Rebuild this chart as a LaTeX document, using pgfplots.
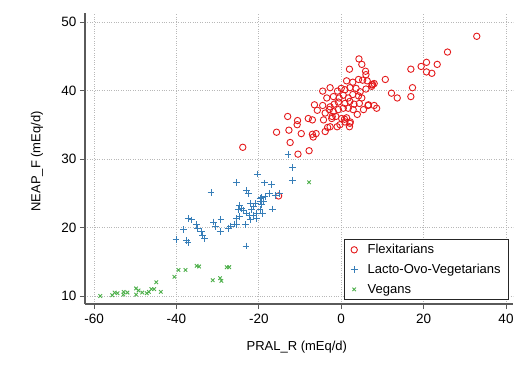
\documentclass[border=0pt]{standalone}
\usepackage{fontspec}
\setmainfont{Liberation Sans}
\usepackage{pgfplots}
\pgfplotsset{compat=1.18}
\definecolor{cRed}{HTML}{E41A1C}
\definecolor{cBlue}{HTML}{377EB8}
\definecolor{cGreen}{HTML}{4DAF4A}
\definecolor{axgray}{RGB}{90,90,90}
\begin{document}
\begin{tikzpicture}
\useasboundingbox (-85bp,-80bp) rectangle (443bp,304bp);
\begin{axis}[
  scale only axis,
  width=428bp, height=291bp,
  xmin=-62.2, xmax=41.7, ymin=8.83, ymax=51.3,
  axis x line*=bottom, axis y line*=left,
  axis line style={-, axgray, line width=1.6bp},
  xtick={-60,-40,...,40}, ytick={10,20,...,50},
  tick align=outside, major tick length=5bp,
  tick style={axgray, line width=0.8bp},
  grid=major,
  major grid style={dotted, black!28, line width=0.8bp},
  /pgf/number format/assume math mode=true,
  ticklabel style={font=\fontsize{13.5bp}{15bp}\selectfont},
  xticklabel style={yshift=-2bp},
  label style={font=\fontsize{13bp}{15bp}\selectfont},
  xlabel={PRAL\_R (mEq/d)},
  ylabel={NEAP\_F (mEq/d)},
  xlabel style={at={(rel axis cs:0.495,0)}, anchor=center, yshift=-43bp},
  ylabel style={at={(rel axis cs:0,0.49)}, anchor=center, yshift=48bp},
  legend cell align=left,
  legend image code/.code={\path (-2bp,0bp) (5bp,0bp); \draw[#1, mark repeat=1] plot coordinates {(0bp,0bp)};},
  legend style={at={(rel axis cs:1,0)}, anchor=south east, xshift=-4bp, yshift=4bp,
    draw=black!85, line width=0.8bp, font=\fontsize{13bp}{15bp}\selectfont,
    inner xsep=6bp, inner ysep=3bp, row sep=5bp,
    /tikz/every odd column/.append style={column sep=6bp}},
]
\addplot[only marks, mark=o, mark size=3.2bp, cRed, line width=0.9bp] coordinates {
(32.9,47.9) (25.8,45.6) (23.3,43.8) (20.7,44.1) (19.4,43.5) (16.9,43.1) (20.7,42.7) (22.0,42.5)
(10.7,41.6) (12.2,39.6) (13.6,38.9) (17.3,40.4) (16.9,39.1) (8.0,41.0) (7.5,40.8) (8.0,37.8)
(8.6,37.4) (6.5,37.8) (4.3,44.6) (5.0,43.8) (2.0,43.1) (5.9,42.8) (6.0,42.3)
(-13.0,36.2) (-10.6,35.6) (-10.7,35.0) (-8.0,35.9) (-7.0,35.7) (-12.7,34.2) (-15.7,33.9)
(-9.7,33.7) (-7.0,33.6) (-6.1,33.7) (-6.8,33.2) (-12.4,32.4) (-23.9,31.7) (-10.5,30.7)
(-7.8,31.2) (-15.2,24.6) (-1.0,34.7) (-3.3,34.6) (-3.9,34.0) (-6.5,37.9) (-5.8,37.1)
(1.3,41.4) (2.8,41.2) (4.2,41.6) (5.2,41.5) (6.3,41.4) (7.6,40.9)
(-4.5,39.9) (-2.7,40.4) (-0.9,39.9) (0.0,40.3) (0.9,40.1) (2.1,40.4) (3.6,40.3) (4.6,39.8) (6.0,40.2) (7.4,40.6)
(-3.5,38.9) (-1.9,39.1) (-0.5,38.9) (0.5,39.3) (1.7,38.9) (2.8,39.4) (4.2,39.2) (5.0,38.9)
(-4.5,37.8) (-2.7,37.6) (-1.7,38.0) (-0.7,38.3) (0.9,38.1) (2.1,38.4) (3.1,38.0) (4.4,38.1) (6.6,37.9)
(-2.9,37.2) (-1.9,36.9) (-0.7,37.2) (0.5,37.4) (1.7,37.4) (2.9,37.2) (5.4,37.2) (3.9,36.5) (-3.9,36.7)
(-4.3,35.7) (-2.3,35.9) (-1.3,36.2) (0.1,35.9) (1.3,36.0) (0.9,35.4) (2.1,35.2) (-0.3,35.0) (2.0,34.7)
(-2.7,34.7) (-2.2,36.2) (0.8,35.8) (2.2,35.4)
};
\addlegendentry{Flexitarians}
\addplot[only marks, mark=+, mark size=3.4bp, cBlue, line width=0.9bp] coordinates {
(-24.6,23.2) (-24.2,22.8) (-25.0,22.6) (-23.8,22.5) (-22.1,23.5) (-20.9,23.5) (-21.3,23.0) (-21.7,22.6)
(-23.1,22.1) (-22.3,21.8) (-21.2,21.7) (-20.5,22.1) (-19.7,22.6) (-19.3,23.3) (-18.9,23.8) (-19.7,24.3)
(-25.4,21.3) (-24.6,21.6) (-31.0,20.8) (-29.2,21.2) (-30.6,20.1) (-29.4,19.4) (-27.4,19.9) (-26.8,20.2)
(-25.5,20.4) (-23.3,20.4) (-22.1,21.1) (-20.5,21.3) (-37.1,21.3) (-36.3,21.1) (-35.2,20.4) (-34.9,19.9)
(-33.9,19.4) (-33.6,18.9) (-33.1,18.4) (-38.2,19.7) (-40.1,18.3) (-37.5,18.1) (-37.2,17.8) (-23.1,17.3)
(-16.6,22.7) (-17.4,25.0) (-18.5,24.5) (-22.9,25.4) (-22.5,25.0) (-20.4,27.8) (-25.5,26.6) (-31.6,25.1)
(-18.6,26.5) (-16.9,26.3) (-12.9,30.6) (-11.8,28.7) (-11.9,26.9) (-16.0,24.7) (-14.9,25.0) (-19.4,24.4)
(-19.2,22.0) (-25.9,20.5) (-19.7,23.8)
};
\addlegendentry{Lacto-Ovo-Vegetarians}
\addplot[only marks, mark=x, mark size=2.5bp, cGreen, line width=0.9bp] coordinates {
(-58.5,10.0) (-55.6,10.1) (-55.0,10.5) (-54.3,10.4) (-52.9,10.2) (-52.8,10.6) (-51.9,10.5)
(-49.8,11.1) (-49.8,10.2) (-49.2,10.8) (-48.3,10.5) (-47.2,10.4) (-46.7,10.6) (-46.1,11.0)
(-45.4,11.0) (-44.9,12.0) (-43.8,10.6) (-40.5,12.8) (-39.5,13.8) (-37.8,13.8) (-35.1,14.4)
(-34.5,14.3) (-31.2,12.3) (-29.4,12.6) (-29.1,12.2) (-27.8,14.2) (-27.2,14.2) (-7.8,26.6)
};
\addlegendentry{Vegans}
\end{axis}
\end{tikzpicture}
\end{document}
